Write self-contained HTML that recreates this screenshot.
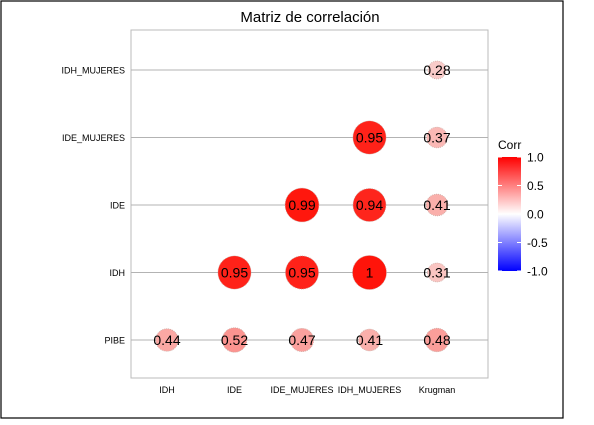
<!DOCTYPE html>
<html><head><meta charset="utf-8"><style>
body{margin:0;background:#fff;font-family:"Liberation Sans",Arial,sans-serif}
svg text{font-family:"Liberation Sans",Arial,sans-serif}
</style></head><body>
<svg id="c" width="594" height="420">
<defs><linearGradient id="g" x1="0" y1="1" x2="0" y2="0">
<stop offset="0" stop-color="#0000ff"/><stop offset="0.5" stop-color="#ffffff"/><stop offset="1" stop-color="#ff0000"/></linearGradient></defs>
<rect x="1" y="1" width="562" height="417" fill="#fff" stroke="#000" stroke-width="1.2"/>
<text x="310" y="22" font-size="15" text-anchor="middle">Matriz de correlación</text>
<rect x="131" y="30" width="357" height="348" fill="#fff" stroke="#bbb"/>
<g id="grid"></g><g id="pts"></g><g id="ax"></g>
<g>
<text x="498" y="149" font-size="12">Corr</text>
<rect x="498" y="157" width="23" height="114" fill="url(#g)"/>
<g id="leg"></g>
</g>
</svg>
<script>
const rowLabels=["PIBE","IDH","IDE","IDE_MUJERES","IDH_MUJERES"];
const colLabels=["IDH","IDE","IDE_MUJERES","IDH_MUJERES","Krugman"];
const rowPIBE=[0.44,0.52,0.47,0.41,0.48];
const rowIDH=[null,0.95,0.95,1,0.31];
const rowIDE=[null,null,0.99,0.94,0.41];
const rowIDEM=[null,null,null,0.95,0.37];
const rowIDHM=[null,null,null,null,0.28];
const values=[rowPIBE,rowIDH,rowIDE,rowIDEM,rowIDHM];
const legendTicks=[1,0.5,0,-0.5,-1];
const legendLabels=["1.0","0.5","0.0","-0.5","-1.0"];
const NS="http://www.w3.org/2000/svg";
const xS=i=>167+i*67.5, yS=j=>340-j*67.5;
const rS=v=>17*Math.sqrt(Math.abs(v));
function col(v){const t=Math.pow(Math.min(1,Math.abs(v)),1.25);
 const r=Math.round(248+(255-248)*t), g=Math.round(250-(250-20)*t), b=Math.round(250-(250-10)*t);
 return v>=0?`rgb(${r},${g},${b})`:`rgb(${b},${g},${r})`;}
function mk(tag,a,p){const e=document.createElementNS(NS,tag);for(const k in a)e.setAttribute(k,a[k]);p.appendChild(e);return e;}
const grid=document.getElementById('grid'),pts=document.getElementById('pts'),ax=document.getElementById('ax'),leg=document.getElementById('leg');
rowLabels.forEach((l,j)=>{
 const g=mk('line',{x1:131,x2:488,y1:yS(j),y2:yS(j),stroke:'#b3b3b3'},grid);
 
 
 const t=mk('text',{x:125,y:yS(j)+3.5,'font-size':9,'text-anchor':'end'},ax);t.textContent=l;
 
 
});
colLabels.forEach((l,i)=>{
 const t=mk('text',{x:xS(i),y:393,'font-size':9,'text-anchor':'middle'},ax);t.textContent=l;
 
 
});
values.forEach((row,j)=>row.forEach((v,i)=>{
 if(v===null)return;
 const c=mk('circle',{cx:xS(i),cy:yS(j),r:rS(v),fill:col(v),stroke:'#c8a8a0','stroke-width':0.7,'stroke-dasharray':'1 1'},pts);
 
 
 const t=mk('text',{x:xS(i),y:yS(j)+5,'font-size':14,'text-anchor':'middle'},pts);t.textContent=String(v);
 
 
}));
legendTicks.forEach((v,k)=>{
 const y=214-v*57;
 mk('line',{x1:498,x2:502,y1:y,y2:y,stroke:'#fff'},leg);
 mk('line',{x1:517,x2:521,y1:y,y2:y,stroke:'#fff'},leg);
 const t=mk('text',{x:527,y:y+4.5,'font-size':12},leg);t.textContent=legendLabels[k];
 
 
});
</script>
</body></html>
